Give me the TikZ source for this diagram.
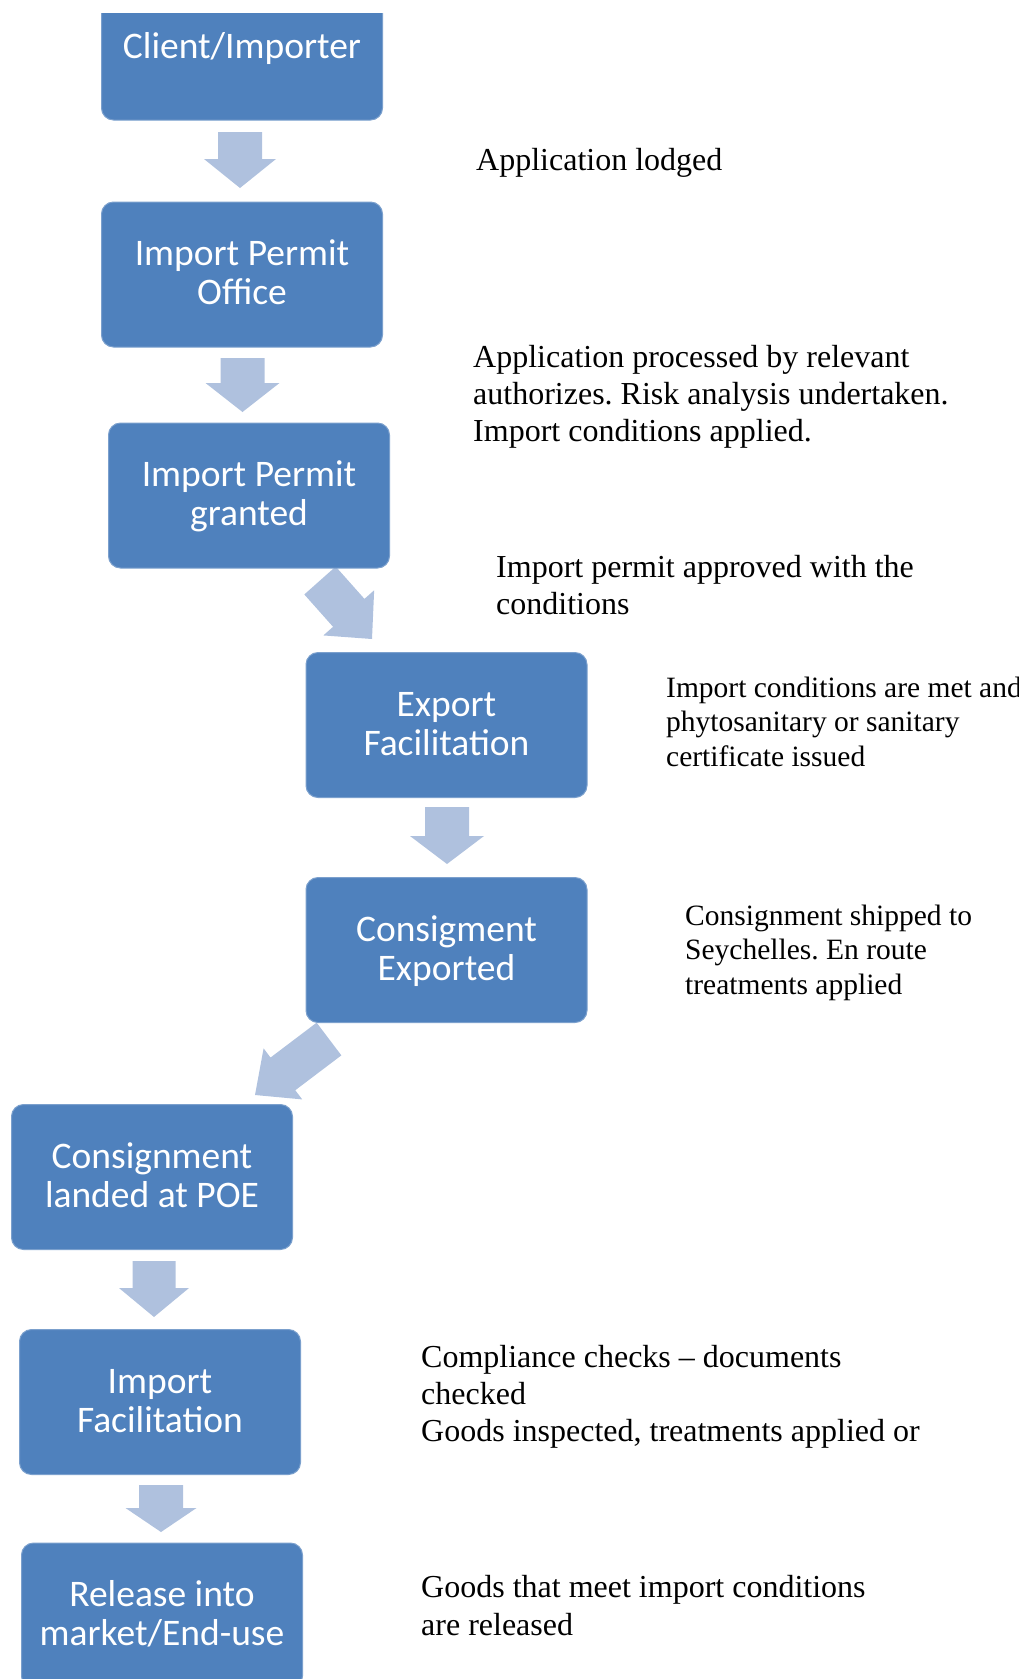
\documentclass[tikz,border=0pt]{standalone}
\usepackage{fontspec}
\setmainfont{Liberation Serif}
\newfontfamily\boxfont{Carlito}
\usetikzlibrary{calc}
\frenchspacing
\definecolor{boxblue}{HTML}{4F81BD}
\definecolor{arrowblue}{HTML}{AFC1DE}
\newcommand{\bstrut}{\rule[-8.7pt]{0pt}{39pt}}
\newcommand{\blockarrow}[5]{%
  \coordinate (#1-#2-h) at ($(#2)!#5!(#1)$);
  \fill[arrowstyle] ($(#1)!#3!90:(#2)$) -- ($(#1-#2-h)!#3!90:(#2)$) -- ($(#1-#2-h)!#4!90:(#2)$) -- (#2)
     -- ($(#1-#2-h)!#4!-90:(#2)$) -- ($(#1-#2-h)!#3!-90:(#2)$) -- ($(#1)!#3!-90:(#2)$) -- cycle;}
\tikzset{
  arrowstyle/.style={fill=arrowblue},
  stepbox/.style={rectangle, rounded corners=12pt, fill=boxblue, draw=boxblue!75!white, line width=1pt,
    minimum width=281pt, minimum height=145pt, inner sep=0pt, align=center, text=white,
    font=\boxfont\fontsize{37.5}{39}\selectfont},
  lbl/.style={anchor=base west, inner sep=0pt},
  big/.style={font=\fontsize{32}{37}\selectfont},
  small/.style={font=\fontsize{29.5}{34.5}\selectfont}
}
\begin{document}
\begin{tikzpicture}[x=1pt,y=-1pt]
\useasboundingbox (0,0) rectangle (1019,1679);
% arrows
\coordinate (a1s) at (240,132); \coordinate (a1t) at (240,188);
\coordinate (a2s) at (242.5,358); \coordinate (a2t) at (242.5,412);
\coordinate (a3s) at (320,580.5); \coordinate (a3t) at (372,639);
\coordinate (a4s) at (447,807); \coordinate (a4t) at (447,864);
\coordinate (a5s) at (329,1039); \coordinate (a5t) at (255,1095);
\coordinate (a6s) at (154,1261); \coordinate (a6t) at (154,1317);
\coordinate (a7s) at (161,1485); \coordinate (a7t) at (161,1532);
\blockarrow{a1s}{a1t}{22pt}{36pt}{29pt}
\blockarrow{a2s}{a2t}{22pt}{37pt}{29pt}
\blockarrow{a3s}{a3t}{21pt}{34pt}{35pt}
\blockarrow{a4s}{a4t}{22pt}{37pt}{28pt}
\blockarrow{a5s}{a5t}{20.5pt}{32pt}{35pt}
\blockarrow{a6s}{a6t}{21.5pt}{35pt}{29pt}
\blockarrow{a7s}{a7t}{22pt}{35.5pt}{24pt}
% boxes
\begin{scope}
\clip (0,13) rectangle (1019,1679);
\node[stepbox] (b1) at (242,47.5) {\bstrut Client/Importer};
\node[stepbox] (b2) at (242,274.5) {\bstrut Import Permit\\\bstrut Office};
\node[stepbox] (b3) at (249,495.5) {\bstrut Import Permit\\\bstrut granted};
\node[stepbox] (b4) at (446.5,725) {\bstrut Export\\\bstrut Facilitation};
\node[stepbox] (b5) at (446.5,950) {\bstrut Consigment\\\bstrut Exported};
\node[stepbox] (b6) at (152,1177) {\bstrut Consignment\\\bstrut landed at POE};
\node[stepbox] (b7) at (160,1402) {\bstrut Import\\\bstrut Facilitation};
\node[stepbox] (b8) at (162,1615.5) {\bstrut Release into\\\bstrut market/End-use};
\end{scope}
% labels
\node[lbl,big] (t1) at (476,170) {Application lodged};
\node[lbl,big] (t2) at (473,367) {\begin{tabular}[t]{@{}l@{}}Application processed by relevant\\authorizes. Risk analysis undertaken.\\Import conditions applied.\end{tabular}};
\node[lbl,big] (t3) at (496,577) {\begin{tabular}[t]{@{}l@{}}Import permit approved with the\\conditions\end{tabular}};
\node[lbl,small] (t4) at (666,697) {\begin{tabular}[t]{@{}l@{}}Import conditions are met and\\phytosanitary or sanitary\\certificate issued\end{tabular}};
\node[lbl,small] (t5) at (685,925) {\begin{tabular}[t]{@{}l@{}}Consignment shipped to\\Seychelles. En route\\treatments applied\end{tabular}};
\node[lbl,big] (t6) at (421,1367) {\begin{tabular}[t]{@{}l@{}}Compliance checks – documents\\checked\\Goods inspected, treatments applied or\end{tabular}};
\node[lbl,big,font=\fontsize{32}{38}\selectfont] (t7) at (421,1597) {\begin{tabular}[t]{@{}l@{}}Goods that meet import conditions\\are released\end{tabular}};
\end{tikzpicture}
\end{document}
